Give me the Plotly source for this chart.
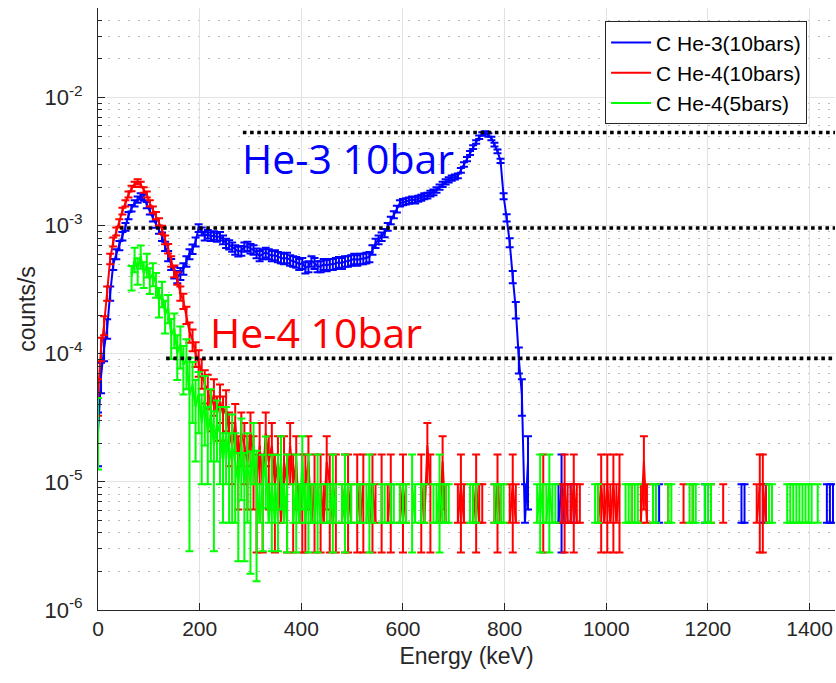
import numpy as np
import plotly.graph_objects as go

# ---------------- data (counts per bin; 1 count = UNIT counts/s) ----------------
BIN_WIDTH_KEV = 6.0
UNIT = 4.8e-6

blue_counts = [
    5, 14, 23, 33, 62, 104, 125, 146, 173, 204,
    250, 285, 312, 333, 354, 344, 302, 271, 240, 215,
    194, 171, 144, 121, 104, 90, 83, 88, 96, 110,
    125, 137, 156, 200, 188, 173, 179, 171, 175, 169,
    173, 162, 152, 148, 142, 135, 131, 133, 142, 144,
    138, 135, 127, 121, 125, 129, 125, 121, 123, 119,
    117, 115, 117, 112, 110, 108, 104, 106, 98, 100,
    110, 106, 100, 100, 104, 102, 104, 104, 106, 108,
    106, 110, 110, 112, 115, 112, 115, 115, 117, 119,
    135, 152, 162, 171, 183, 204, 229, 254, 281, 312,
    319, 323, 327, 333, 329, 338, 344, 354, 358, 371,
    379, 396, 417, 438, 458, 475, 490, 500, 510, 563,
    625, 688, 771, 854, 938, 1021, 1083, 1104, 1063, 1000,
    896, 792, 667, 354, 240, 154, 83, 46, 19, 10,
    1, 3, 0, 0, 0, 0, 0, 0, 0, 0,
    0, 1, 2, 1, 0, 1, 1, 0, 0, 0,
    0, 0, 0, 0, 0, 0, 0, 0, 0, 0,
    0, 0, 0, 0, 0, 0, 0, 0, 0, 0,
    0, 0, 0, 1, 1, 0, 0, 0, 0, 0,
    0, 0, 0, 0, 0, 0, 0, 0, 0, 1,
    1, 0, 0, 0, 0, 0, 0, 0, 0, 0,
    0, 1, 1, 0, 0, 0, 0, 0, 1, 1,
    0, 0, 0, 0, 0, 0, 0, 0, 0, 0,
    0, 0, 0, 0, 0, 0, 0, 0, 0, 1,
    1, 1,
]

red_counts = [
    10, 23, 35, 62, 115, 156, 188, 219, 271, 312,
    365, 406, 438, 458, 438, 396, 365, 312, 277, 250,
    223, 194, 162, 138, 110, 92, 81, 62, 54, 42,
    31, 27, 21, 18, 15, 12, 11, 8, 10, 7,
    9, 7, 8, 5, 4, 6, 3, 5, 4, 3,
    5, 3, 2, 4, 2, 5, 3, 4, 2, 3,
    1, 3, 2, 4, 2, 3, 1, 2, 2, 3,
    1, 2, 0, 2, 1, 3, 2, 1, 2, 0,
    1, 2, 2, 1, 0, 2, 1, 2, 0, 1,
    2, 1, 0, 2, 0, 1, 2, 0, 0, 1,
    2, 1, 0, 0, 0, 0, 2, 1, 4, 2,
    0, 0, 1, 3, 1, 0, 0, 0, 1, 2,
    1, 0, 0, 1, 2, 1, 1, 0, 0, 0,
    1, 2, 1, 0, 0, 1, 2, 1, 0, 0,
    0, 0, 0, 0, 0, 0, 2, 0, 0, 0,
    0, 0, 1, 2, 1, 1, 2, 1, 1, 0,
    0, 0, 0, 0, 1, 2, 1, 2, 1, 2,
    1, 2, 0, 0, 0, 1, 0, 0, 1, 3,
    1, 0, 1, 0, 0, 0, 0, 1, 0, 0,
    0, 0, 1, 0, 0, 1, 0, 0, 0, 0,
    0, 1, 0, 0, 0, 1, 0, 0, 0, 0,
    0, 0, 0, 0, 0, 0, 1, 2, 2, 1,
    0, 0, 0, 0, 0, 0, 0, 0, 0, 0,
    0, 0, 0, 0, 0, 0, 0, 0, 0, 0,
    0, 0,
]

green_counts = [
    6, 0, 0, 0, 0, 0, 0, 0, 0, 0,
    0, 83, 115, 94, 121, 88, 104, 79, 88, 73,
    54, 62, 42, 48, 29, 33, 21, 25, 17, 19,
    10, 12, 8, 10, 6, 9, 5, 7, 4, 6,
    5, 3, 5, 3, 4, 3, 2, 4, 2, 3,
    2, 4, 2, 1, 2, 3, 1, 2, 1, 2,
    3, 1, 2, 0, 1, 2, 1, 3, 1, 2,
    1, 1, 2, 1, 0, 1, 1, 2, 1, 0,
    1, 2, 1, 1, 0, 1, 1, 0, 1, 2,
    1, 0, 0, 1, 1, 0, 1, 1, 0, 1,
    1, 1, 0, 2, 1, 0, 1, 1, 0, 0,
    1, 1, 2, 1, 1, 1, 0, 0, 0, 0,
    0, 0, 1, 1, 1, 0, 0, 0, 0, 0,
    1, 1, 1, 1, 0, 0, 0, 0, 0, 0,
    0, 0, 0, 0, 1, 2, 1, 1, 2, 1,
    1, 0, 0, 0, 0, 0, 0, 0, 0, 0,
    0, 0, 0, 1, 1, 0, 0, 0, 0, 0,
    0, 0, 0, 1, 1, 1, 1, 1, 0, 0,
    0, 0, 1, 1, 0, 0, 0, 1, 1, 0,
    0, 0, 0, 0, 1, 1, 1, 0, 0, 1,
    1, 1, 0, 0, 0, 0, 0, 0, 0, 0,
    0, 0, 0, 0, 0, 0, 0, 0, 0, 0,
    1, 1, 0, 0, 0, 0, 1, 1, 1, 1,
    1, 1, 1, 1, 1, 0, 1, 0, 0, 0,
    0, 0,
]

# read-off error bars (in counts) for the low-energy part of the 5 bar spectrum
green_err_low = [
    3.4, 0, 0, 0, 0, 0, 0, 0, 0, 0,
    0, 18, 25, 22, 25, 20, 22, 18, 18, 16,
    14, 14, 12, 12, 10, 10, 8, 9, 7, 8,
    9.4, 6, 5, 5, 4, 5, 3, 4, 3.4, 3,
    3, 2, 3, 2, 3, 2, 1.5, 2.5, 1.5, 2,
    1.6, 2, 1.65, 1, 1.4, 1.7, 1, 1.4, 1, 1.4,
]

series_names = ["C He-3(10bars)", "C He-4(10bars)", "C He-4(5bars)"]
series_colors = ["#0000FF", "#FF0000", "#00FF00"]

ref_levels = [5.33e-3, 9.6e-4, 9.2e-5]
ref_starts_kev = [285, 43, 134]

x_max = 1450
x_ticks = [0, 200, 400, 600, 800, 1000, 1200, 1400]
y_top = 0.05
y_decades = [-6, -5, -4, -3, -2]

energy = np.arange(len(blue_counts)) * BIN_WIDTH_KEV


def build(counts, err_low=None):
    y, ep, em = [], [], []
    for k, n in enumerate(counts):
        if n <= 0:
            y.append(None); ep.append(0); em.append(0)
            continue
        if err_low is not None and k < len(err_low):
            e = err_low[k]
        else:
            e = float(np.sqrt(n))
        y.append(n * UNIT)
        ep.append(e * UNIT)
        em.append(e * UNIT if e < n else 0.0)
    return y, ep, em


fig = go.Figure()
for name, counts, errs, color in zip(series_names,
                                     [blue_counts, red_counts, green_counts],
                                     [None, None, green_err_low],
                                     series_colors):
    y, ep, em = build(counts, errs)
    fig.add_trace(go.Scatter(
        x=energy, y=y, mode="lines", name=name,
        line=dict(color=color, width=2),
        error_y=dict(type="data", symmetric=False, array=ep, arrayminus=em,
                     color=color, thickness=2, width=4),
    ))

for lvl, x0 in zip(ref_levels, ref_starts_kev):
    fig.add_trace(go.Scatter(
        x=[x0, x_max], y=[lvl, lvl], mode="lines", showlegend=False,
        hoverinfo="skip", line=dict(color="black", width=3.6, dash="dot"),
    ))

fig.add_annotation(x=279, y=np.log10(3.4e-3), text="He-3 10bar", showarrow=False,
                   xanchor="left", yanchor="middle",
                   font=dict(family="Open Sans", size=41, color="#0000FF"))
fig.add_annotation(x=216, y=np.log10(1.48e-4), text="He-4 10bar", showarrow=False,
                   xanchor="left", yanchor="middle",
                   font=dict(family="Open Sans", size=41, color="#FF0000"))

minor_vals = [k * 10.0 ** e for e in range(-6, -1) for k in range(2, 10) if k * 10.0 ** e <= y_top]

axis_col = "#262626"
fig.update_xaxes(
    range=[0, x_max], tickvals=x_ticks, ticks="inside", ticklen=7, tickcolor=axis_col,
    showline=True, linecolor=axis_col, linewidth=1, zeroline=False,
    showgrid=True, gridcolor="#e2e2e2", gridwidth=1,
    tickfont=dict(family="Liberation Sans", size=21, color=axis_col),
    title=dict(text="Energy (keV)", font=dict(family="Liberation Sans", size=23, color=axis_col), standoff=8),
)
fig.update_yaxes(
    type="log", range=[-6, np.log10(y_top)],
    tickvals=[10.0 ** d for d in y_decades],
    ticktext=[f"10<sup>{d}</sup>" for d in y_decades],
    ticks="inside", ticklen=7, tickcolor=axis_col, ticklabelstandoff=10,
    showline=True, linecolor=axis_col, linewidth=1, zeroline=False,
    showgrid=True, gridcolor="#e2e2e2", gridwidth=1,
    minor=dict(tickvals=minor_vals, ticks="inside", ticklen=4, tickcolor=axis_col,
               showgrid=True, gridcolor="#bcbcbc", griddash="2px,8px", gridwidth=1),
    tickfont=dict(family="Liberation Sans", size=22, color=axis_col),
    title=dict(text="counts/s", font=dict(family="Liberation Sans", size=23, color=axis_col), standoff=2),
)

fig.update_layout(
    width=836, height=683,
    margin=dict(l=98, r=1, t=8, b=73),
    paper_bgcolor="white", plot_bgcolor="white",
    legend=dict(x=0.688, y=0.978, xanchor="left", yanchor="top",
                bgcolor="white", bordercolor=axis_col, borderwidth=1,
                font=dict(family="Liberation Sans", size=21, color="black"),
                tracegroupgap=0, itemwidth=40),
    showlegend=True,
)

fig.write_html("out.html")
